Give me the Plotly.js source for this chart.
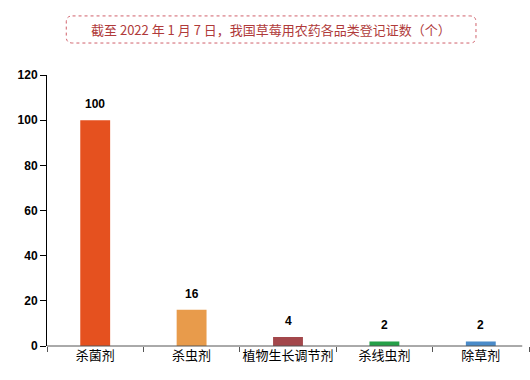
<!DOCTYPE html>
<html><head><meta charset="utf-8">
<script src="https://cdn.plot.ly/plotly-3.0.1.min.js"></script>
<style>body{margin:0;padding:0;background:#fff}#chart{width:530px;height:380px}</style>
</head><body><div id="chart"></div>
<script>
const categories = ["杀菌剂", "杀虫剂", "植物生长调节剂", "杀线虫剂", "除草剂"];
const counts = [100, 16, 4, 2, 2];
const barColors = ["#E5511F", "#E89B4B", "#A3474B", "#25A048", "#4A8BC9"];
const titleText = "截至 2022 年 1 月 7 日，我国草莓用农药各品类登记证数（个）";

const trace = {
  type: "bar",
  x: categories,
  y: counts,
  width: 0.31,
  marker: {color: barColors},
  hoverinfo: "none"
};

// rounded dotted title box (paper coords)
const x0 = 0.040, x1 = 0.890, y0 = 1.118, y1 = 1.218, rx = 0.013, ry = 0.022;
const path = `M ${x0+rx},${y1} L ${x1-rx},${y1} Q ${x1},${y1} ${x1},${y1-ry} L ${x1},${y0+ry} Q ${x1},${y0} ${x1-rx},${y0} L ${x0+rx},${y0} Q ${x0},${y0} ${x0},${y0+ry} L ${x0},${y1-ry} Q ${x0},${y1} ${x0+rx},${y1} Z`;

const valueLabels = categories.map((c, i) => ({
  x: c, y: counts[i], xref: "x", yref: "y",
  text: String(counts[i]), showarrow: false,
  yanchor: "bottom", yshift: 7,
  font: {family: "Liberation Sans, Arial, sans-serif", size: 12, color: "#000", weight: "bold"}
}));

const layout = {
  width: 530, height: 380,
  margin: {l: 47, r: 1, t: 75, b: 34},
  paper_bgcolor: "#fff", plot_bgcolor: "#fff",
  showlegend: false,
  xaxis: {
    type: "category",
    showline: false,
    ticks: "outside", tickson: "boundaries", ticklen: 5, tickcolor: "#555",
    tickangle: 0,
    tickfont: {family: "Noto Sans CJK SC, sans-serif", size: 13, color: "#000"},
    showgrid: false, zeroline: false, fixedrange: true
  },
  yaxis: {
    range: [0, 120], dtick: 20,
    showline: true, linecolor: "#000", linewidth: 1,
    ticks: "outside", ticklen: 6, tickcolor: "#000",
    tickfont: {family: "Liberation Sans, Arial, sans-serif", size: 12, color: "#000", weight: "bold"},
    showgrid: false, zeroline: false, fixedrange: true
  },
  shapes: [{
    type: "path", xref: "paper", yref: "paper", path: path,
    line: {color: "#D0606A", width: 1, dash: "dot"}, fillcolor: "rgba(0,0,0,0)"
  }, {
    type: "line", xref: "paper", yref: "paper", x0: 0, x1: 0.986, y0: 0, y1: 0,
    line: {color: "#555", width: 1}
  }],
  annotations: valueLabels.concat([{
    xref: "paper", yref: "paper", x: (x0 + x1) / 2, y: (y0 + y1) / 2,
    xanchor: "center", yanchor: "middle", showarrow: false,
    text: titleText,
    font: {family: "Noto Sans CJK SC, sans-serif", size: 13, color: "#B03A3A"}
  }])
};

Plotly.newPlot("chart", [trace], layout, {staticPlot: true, displayModeBar: false});
</script></body></html>
